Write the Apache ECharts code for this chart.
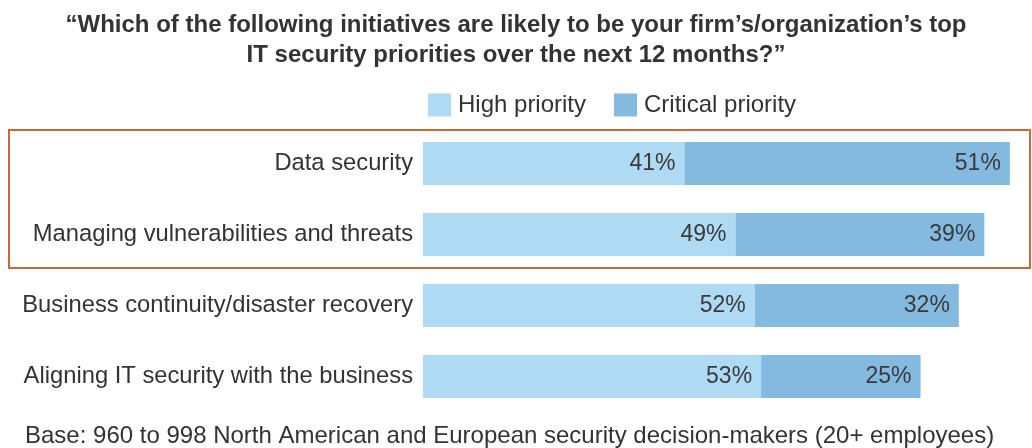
<!DOCTYPE html>
<html>
<head>
<meta charset="utf-8">
<script src="https://cdn.jsdelivr.net/npm/echarts@6/dist/echarts.min.js"></script>
<style>
html,body{margin:0;padding:0;background:#fff;}
#chart{width:1032px;height:448px;}
</style>
</head>
<body>
<div id="chart"></div>
<script>
const categories = [
  "Data security",
  "Managing vulnerabilities and threats",
  "Business continuity/disaster recovery",
  "Aligning IT security with the business"
];
const highPriority = [41, 49, 52, 53];
const criticalPriority = [51, 39, 32, 25];
const seriesNames = ["High priority", "Critical priority"];
const titleText = "\u201cWhich of the following initiatives are likely to be your firm\u2019s/organization\u2019s top\nIT security priorities over the next 12 months?\u201d";
const footerText = "Base: 960 to 998 North American and European security decision-makers (20+ employees)";

const FONT = "'Liberation Sans', Arial, Helvetica, sans-serif";
const chart = echarts.init(document.getElementById('chart'), null, {renderer: 'canvas'});

const labelCfg = {
  show: true,
  position: 'insideRight',
  distance: 9,
  formatter: p => p.value + '%',
  color: '#3a3a3a',
  fontSize: 23,
  fontFamily: FONT
};

chart.setOption({
  animation: false,
  backgroundColor: '#ffffff',
  title: [
    {
      text: titleText,
      left: 'center',
      top: 5,
      textStyle: {fontSize: 24, fontWeight: 'bold', color: '#333333', lineHeight: 30, fontFamily: FONT}
    },
    {
      text: footerText,
      left: 20,
      top: 419,
      textStyle: {fontSize: 24, fontWeight: 'normal', color: '#333333', fontFamily: FONT}
    }
  ],
  legend: {
    data: seriesNames,
    left: 423,
    top: 88,
    itemWidth: 23,
    itemHeight: 23,
    itemGap: 28,
    icon: 'rect',
    textStyle: {fontSize: 24, color: '#333333', fontFamily: FONT, padding: [0, 0, 0, 2]}
  },
  grid: {left: 423, right: 3, top: 128, bottom: 36, containLabel: false},
  xAxis: {
    type: 'value',
    min: 0,
    max: 95,
    show: false
  },
  yAxis: {
    type: 'category',
    data: categories,
    inverse: true,
    axisLine: {show: false},
    axisTick: {show: false},
    splitLine: {show: false},
    axisLabel: {fontSize: 23.75, color: '#333333', margin: 10, fontFamily: FONT}
  },
  series: [
    {
      name: seriesNames[0],
      type: 'bar',
      stack: 'total',
      data: highPriority,
      barWidth: 43,
      itemStyle: {color: '#AEDAF4'},
      label: labelCfg
    },
    {
      name: seriesNames[1],
      type: 'bar',
      stack: 'total',
      data: criticalPriority,
      barWidth: 43,
      itemStyle: {color: '#84B9E0'},
      label: labelCfg
    }
  ],
  graphic: [
    {
      type: 'rect',
      shape: {x: 9, y: 130, width: 1021, height: 138},
      style: {fill: 'none', stroke: '#C9683A', lineWidth: 2},
      silent: true,
      z: 10
    }
  ]
});
</script>
</body>
</html>
